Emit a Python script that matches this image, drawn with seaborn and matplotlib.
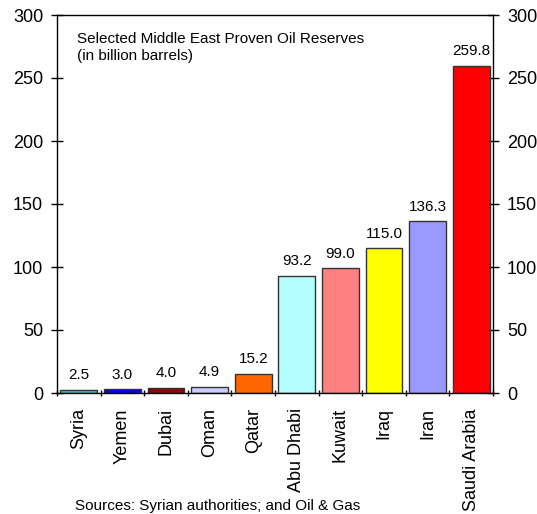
import matplotlib
matplotlib.use("Agg")
import matplotlib.pyplot as plt
import seaborn as sns
import pandas as pd
from matplotlib.ticker import FixedLocator

countries = ["Syria", "Yemen", "Dubai", "Oman", "Qatar", "Abu Dhabi", "Kuwait", "Iraq", "Iran", "Saudi Arabia"]
reserves = [2.5, 3.0, 4.0, 4.9, 15.2, 93.2, 99.0, 115.0, 136.3, 259.8]
colors = ["#33CCCC", "#0000FF", "#990000", "#CCCCFF", "#FF6600", "#B3FFFF", "#FF8080", "#FFFF00", "#9999FF", "#FF0000"]
yticks = [0, 50, 100, 150, 200, 250, 300]

sns.set_theme(style="white")
plt.rcParams["font.family"] = ["Liberation Sans", "DejaVu Sans"]
plt.rcParams["text.color"] = "black"

df = pd.DataFrame({"country": countries, "reserves": reserves})
fig = plt.figure(figsize=(5.37, 5.14), dpi=100)
ax = fig.add_axes([57/537, 1-393/514, 436/537, 378/514])
sns.barplot(data=df, x="country", y="reserves", hue="country", palette=colors,
            legend=False, ax=ax, width=0.84, edgecolor="#333333", linewidth=1, saturation=1)
ax.set_ylim(0, 300)
ax.set_xlim(-0.5, 9.5)
ax.set_yticks(yticks)
ax.set_xlabel("")
ax.set_ylabel("")
for s in ax.spines.values():
    s.set_color("black")
    s.set_linewidth(1)
ax.tick_params(axis="y", labelsize=13, left=True, right=True, labelright=True,
               direction="inout", length=8, width=1, colors="black", pad=6)
ax.tick_params(axis="x", labelsize=13, rotation=90, bottom=False, length=0, pad=11, colors="black")
ax.xaxis.set_minor_locator(FixedLocator([i + 0.5 for i in range(-1, 10)]))
ax.tick_params(axis="x", which="minor", bottom=True, direction="inout", length=5, width=1, color="black")
for i, v in enumerate(reserves):
    ax.text(i, v + 6, f"{v:.1f}", ha="center", va="bottom", fontsize=11, color="black")
ax.text(77/537, 1-32/514, "Selected Middle East Proven Oil Reserves\n(in billion barrels)",
        transform=fig.transFigure, ha="left", va="top", fontsize=11, linespacing=1.3, color="black")
fig.text(75/537, 1-499/514, "Sources: Syrian authorities; and Oil & Gas", ha="left", va="top",
         fontsize=11, color="black")
fig.savefig("out.png", dpi=100)
